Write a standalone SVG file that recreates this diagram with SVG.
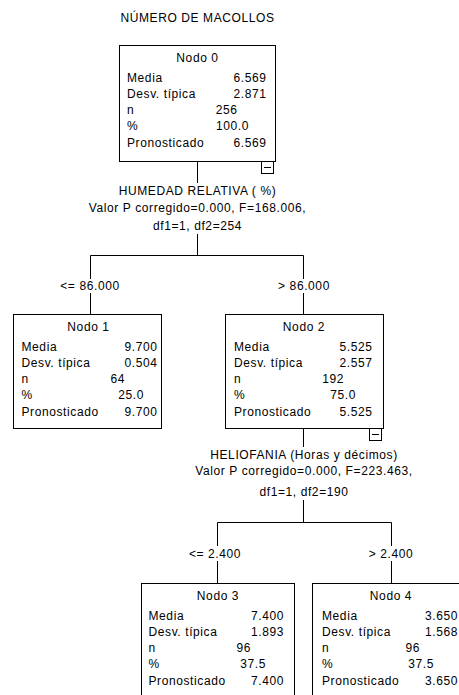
<svg xmlns="http://www.w3.org/2000/svg" width="459" height="695" viewBox="0 0 459 695">
<style>
text{font-family:"Liberation Sans",Arial,sans-serif;font-size:12px;letter-spacing:0.6px;fill:#000}
.c{text-anchor:middle}
.e{text-anchor:end}
.box{fill:#fff;stroke:#000;stroke-width:1}
.tg{fill:#fff;stroke:#000;stroke-width:1}
.ln{stroke:#000;stroke-width:1;fill:none}
</style>
<rect width="459" height="695" fill="#fff"/>
<text class="c" x="197.5" y="21.5">NÚMERO DE MACOLLOS</text>
<g id="connectors">
<path class="ln" d="M197.5 161.5V183 M197.5 234V255.5 M90.5 255.5H303.5 M90.5 255.5V279 M90.5 293V314.5 M303.5 255.5V279 M303.5 293V314.5"/>
<path class="ln" d="M303.5 428.5V447 M303.5 500V522.5 M217.5 522.5H391.5 M217.5 522.5V546 M217.5 561V583.5 M391.5 522.5V546 M391.5 561V583.5"/>
<text class="c" x="197.5" y="195">HUMEDAD RELATIVA ( %)</text>
<text class="c" x="197.5" y="211.5">Valor P corregido=0.000, F=168.006,</text>
<text class="c" x="197.5" y="230">df1=1, df2=254</text>
<text class="c" x="90" y="290">&lt;= 86.000</text>
<text class="c" x="304" y="290">&gt; 86.000</text>
<text class="c" x="304" y="459">HELIOFANIA (Horas y décimos)</text>
<text class="c" x="304" y="475">Valor P corregido=0.000, F=223.463,</text>
<text class="c" x="304" y="496">df1=1, df2=190</text>
<text class="c" x="215" y="558">&lt;= 2.400</text>
<text class="c" x="391" y="558">&gt; 2.400</text>
</g>
<g id="node0">
<rect class="box" x="119.5" y="45.5" width="156" height="116"/>
<rect class="tg" x="261.5" y="161.5" width="12" height="12"/>
<path class="ln" d="M264 167.5H271"/>
<text class="c" x="197.5" y="62">Nodo 0</text>
<text x="127" y="82">Media</text><text class="e" x="266.5" y="82">6.569</text>
<text x="127" y="98">Desv. típica</text><text class="e" x="266.5" y="98">2.871</text>
<text x="127" y="114">n</text><text class="e" x="237.5" y="114">256</text>
<text x="127" y="130">%</text><text class="e" x="249" y="130">100.0</text>
<text x="127" y="146.5">Pronosticado</text><text class="e" x="266.5" y="146.5">6.569</text>
</g>
<g id="node1">
<rect class="box" x="13.5" y="314.5" width="148" height="114"/>
<text class="c" x="88.5" y="331">Nodo 1</text>
<text x="21.5" y="351">Media</text><text class="e" x="157.5" y="351">9.700</text>
<text x="21.5" y="367">Desv. típica</text><text class="e" x="157.5" y="367">0.504</text>
<text x="21.5" y="383">n</text><text class="e" x="125" y="383">64</text>
<text x="21.5" y="399">%</text><text class="e" x="144" y="399">25.0</text>
<text x="21.5" y="415.5">Pronosticado</text><text class="e" x="157.5" y="415.5">9.700</text>
</g>
<g id="node2">
<rect class="box" x="225.5" y="314.5" width="158" height="114"/>
<rect class="tg" x="369.5" y="428.5" width="12" height="12"/>
<path class="ln" d="M372 434.5H379"/>
<text class="c" x="304" y="331">Nodo 2</text>
<text x="234" y="351">Media</text><text class="e" x="372.5" y="351">5.525</text>
<text x="234" y="367">Desv. típica</text><text class="e" x="372.5" y="367">2.557</text>
<text x="234" y="383">n</text><text class="e" x="344" y="383">192</text>
<text x="234" y="399">%</text><text class="e" x="356" y="399">75.0</text>
<text x="234" y="415.5">Pronosticado</text><text class="e" x="372.5" y="415.5">5.525</text>
</g>
<g id="node3">
<rect class="box" x="141.5" y="583.5" width="153" height="118"/>
<text class="c" x="218" y="600">Nodo 3</text>
<text x="148.5" y="620">Media</text><text class="e" x="284" y="620">7.400</text>
<text x="148.5" y="636">Desv. típica</text><text class="e" x="284" y="636">1.893</text>
<text x="148.5" y="652">n</text><text class="e" x="251" y="652">96</text>
<text x="148.5" y="668">%</text><text class="e" x="266" y="668">37.5</text>
<text x="148.5" y="685">Pronosticado</text><text class="e" x="284" y="685">7.400</text>
</g>
<g id="node4">
<rect class="box" x="312.5" y="583.5" width="158" height="118"/>
<text class="c" x="391" y="600">Nodo 4</text>
<text x="322" y="620">Media</text><text class="e" x="458" y="620">3.650</text>
<text x="322" y="636">Desv. típica</text><text class="e" x="458" y="636">1.568</text>
<text x="322" y="652">n</text><text class="e" x="420" y="652">96</text>
<text x="322" y="668">%</text><text class="e" x="434" y="668">37.5</text>
<text x="322" y="685">Pronosticado</text><text class="e" x="458" y="685">3.650</text>
</g>
</svg>
